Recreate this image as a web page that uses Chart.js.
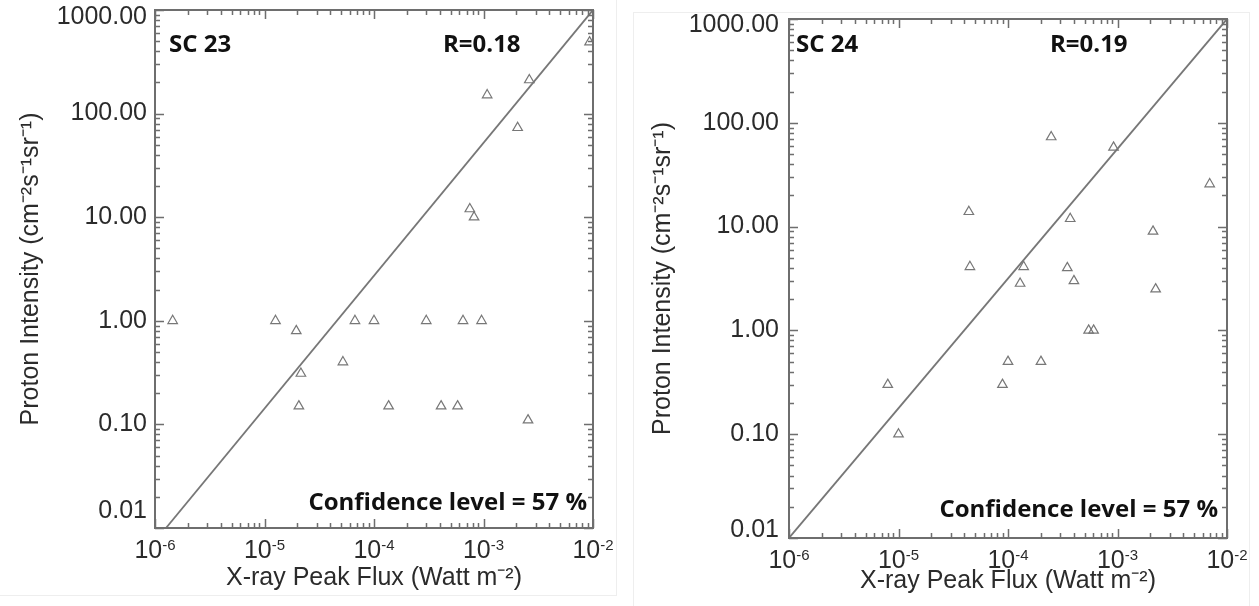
<!DOCTYPE html>
<html>
<head>
<meta charset="utf-8">
<script src="https://cdn.jsdelivr.net/npm/chart.js@4.4.1/dist/chart.umd.min.js"></script>
<style>
  body { margin: 0; background: #fff; width: 1259px; height: 606px; overflow: hidden; position: relative; }
  .panel { position: absolute; top: 0; }
  .frame { position: absolute; pointer-events: none; }
</style>
</head>
<body>
<div class="panel" style="left:0px"><canvas id="sc23" width="620" height="606"></canvas></div>
<div class="panel" style="left:630px"><canvas id="sc24" width="629" height="606"></canvas></div>
<div class="frame" style="left:0; top:0; width:616px; height:595px; border-right:1px solid #eee; border-bottom:1px solid #eee"></div>
<div class="frame" style="left:633px; top:12px; width:615px; height:600px; border-left:1px solid #eee; border-top:1px solid #eee; border-right:1px solid #eee"></div>
<script>
// Solar cycle 23: X-ray peak flux vs proton intensity
const sc23Flux = [1.45e-6, 1.26e-5, 1.95e-5, 2.15e-5, 2.06e-5, 5.2e-5, 6.7e-5, 1.0e-4, 1.36e-4, 3.0e-4, 4.1e-4,
  5.8e-4, 6.5e-4, 7.5e-4, 8.2e-4, 9.6e-4, 1.08e-3, 2.05e-3, 2.55e-3, 2.62e-3, 9.3e-3]
const sc23Proton = [1.0, 1.0, 0.8, 0.31, 0.15, 0.40, 1.0, 1.0, 0.15, 1.0, 0.15,
  0.15, 1.0, 12, 10, 1.0, 151, 73, 0.11, 211, 490]
const sc23FitX = [1.26e-6, 1e-2]
const sc23FitY = [0.01, 1000]

// Solar cycle 24
const sc24Flux = [7.98e-6, 1.0e-5, 4.39e-5, 4.49e-5, 8.9e-5, 1.0e-4, 1.29e-4, 1.39e-4, 2.0e-4, 2.48e-4,
  3.48e-4, 3.70e-4, 4.0e-4, 5.45e-4, 6.05e-4, 9.2e-4, 2.11e-3, 2.23e-3, 6.95e-3]
const sc24Proton = [0.30, 0.10, 13.9, 4.1, 0.30, 0.50, 2.83, 4.1, 0.50, 73,
  4.0, 11.9, 3.0, 1.0, 1.0, 58, 9.0, 2.5, 25.7]
const sc24FitX = [1e-6, 1e-2]
const sc24FitY = [0.01, 1000]

const xTickExps = ['-6', '-5', '-4', '-3', '-2'] // labels 10^-6 .. 10^-2
const yTickLabels = ['0.01', '0.10', '1.00', '10.00', '100.00', '1000.00'] // 1e-2 .. 1e3

const axisFont = '"Liberation Sans", Arial, sans-serif'
const noteFont = '"Open Sans", Lato, sans-serif'
const ink = '#2b2b2b'
const grey = '#6e6e6e'

function logTicks(minExp, maxExp) {
  const out = []
  for (let e = minExp; e < maxExp; e++) {
    for (let m = 1; m <= 9; m++) out.push(m * Math.pow(10, e))
  }
  out.push(Math.pow(10, maxExp))
  return out
}

function decade(v) {
  const e = Math.log10(v)
  const r = Math.round(e)
  return Math.abs(e - r) < 1e-6 ? r : null
}

function toPoints(xs, ys) {
  return xs.map(function(x, i) { return { x: x, y: ys[i] } })
}

// frame with inward ticks on all four sides, like the original IDL plot
const boxPlugin = {
  id: 'box',
  afterDatasetsDraw(chart, args, opts) {
    const ctx = chart.ctx
    const a = chart.chartArea
    const xs = chart.scales.x
    const ys = chart.scales.y
    ctx.save()
    ctx.strokeStyle = grey
    ctx.lineWidth = 1.5
    xs.ticks.forEach(function(t) {
      const px = Math.round(xs.getPixelForValue(t.value)) + 0.5
      const len = decade(t.value) !== null ? 9 : 5
      ctx.beginPath()
      ctx.moveTo(px, a.bottom); ctx.lineTo(px, a.bottom - len)
      ctx.moveTo(px, a.top); ctx.lineTo(px, a.top + len)
      ctx.stroke()
    })
    ys.ticks.forEach(function(t) {
      const py = Math.round(ys.getPixelForValue(t.value)) + 0.5
      const len = decade(t.value) !== null ? 9 : 5
      ctx.beginPath()
      ctx.moveTo(a.left, py); ctx.lineTo(a.left + len, py)
      ctx.moveTo(a.right, py); ctx.lineTo(a.right - len, py)
      ctx.stroke()
    })
    ctx.lineWidth = 2
    ctx.strokeRect(a.left, a.top, a.right - a.left, a.bottom - a.top)

    ctx.fillStyle = ink
    // x tick labels as 10 with a raised exponent
    ctx.textBaseline = 'alphabetic'
    ctx.textAlign = 'left'
    xs.ticks.forEach(function(t) {
      const d = decade(t.value)
      if (d === null) return
      const px = xs.getPixelForValue(t.value)
      const exp = xTickExps[d + 6]
      ctx.font = '25px ' + axisFont
      const wb = ctx.measureText('10').width
      ctx.font = '15px ' + axisFont
      const we = ctx.measureText(exp).width
      const x0 = px - (wb + we) / 2
      ctx.font = '25px ' + axisFont
      ctx.fillText('10', x0, a.bottom + opts.xBase)
      ctx.font = '15px ' + axisFont
      ctx.fillText(exp, x0 + wb, a.bottom + opts.xBase - 8)
    })
    // y tick labels; the end labels sit inside the axis span as in the original
    ctx.textAlign = 'right'
    ctx.textBaseline = 'middle'
    ctx.font = '25px ' + axisFont
    ys.ticks.forEach(function(t) {
      const d = decade(t.value)
      if (d === null) return
      let py = ys.getPixelForValue(t.value)
      if (d === 3) py += opts.topShift
      if (d === -2) py -= opts.bottomShift
      ctx.fillText(yTickLabels[d + 2], a.left - opts.yPad, py)
    })
    ctx.restore()
  }
}

const notesPlugin = {
  id: 'notes',
  afterDraw(chart, args, opts) {
    const ctx = chart.ctx
    const a = chart.chartArea
    ctx.save()
    ctx.fillStyle = '#111'
    ctx.font = 'bold 24px ' + noteFont
    ctx.textBaseline = 'alphabetic'
    ctx.textAlign = 'left'
    ctx.fillText(opts.cycle, a.left + opts.cycleDx, a.top + opts.topDy)
    ctx.fillText(opts.r, a.left + opts.rDx, a.top + opts.topDy)
    ctx.textAlign = 'right'
    ctx.fillText(opts.conf, a.right - opts.confDx, a.bottom - opts.confDy)
    ctx.restore()
  }
}

function noPad(scale) {
  scale.paddingTop = 0
  scale.paddingBottom = 0
  scale.paddingLeft = 0
  scale.paddingRight = 0
}

function makeChart(id, flux, proton, fitX, fitY, pad, labels, notes) {
  const xVals = logTicks(-6, -2)
  const yVals = logTicks(-2, 3)
  return new Chart(document.getElementById(id), {
    type: 'scatter',
    data: {
      datasets: [{
        data: toPoints(flux, proton),
        pointStyle: 'triangle',
        pointRadius: 5.5,
        borderColor: '#777',
        backgroundColor: 'rgba(0,0,0,0)',
        borderWidth: 1.2
      }, {
        data: toPoints(fitX, fitY),
        showLine: true,
        pointRadius: 0,
        borderColor: '#777',
        borderWidth: 1.8
      }]
    },
    options: {
      responsive: false,
      animation: false,
      devicePixelRatio: 1,
      layout: { padding: { top: pad.top, right: pad.right, left: 0, bottom: 0 } },
      plugins: {
        legend: { display: false },
        tooltip: { enabled: false },
        box: labels,
        notes: notes
      },
      scales: {
        x: {
          type: 'logarithmic',
          min: 1e-6,
          max: 1e-2,
          afterBuildTicks: function(scale) { scale.ticks = xVals.map(function(v) { return { value: v } }) },
          afterFit: function(scale) { scale.height = pad.xHeight; noPad(scale) },
          grid: { display: false, drawTicks: false },
          border: { display: false },
          ticks: { display: false },
          title: {
            display: true, text: 'X-ray Peak Flux (Watt m\u207B\u00B2)', color: ink,
            font: { family: axisFont, size: 25 }, padding: { top: 0, bottom: pad.xTitle }
          }
        },
        y: {
          type: 'logarithmic',
          min: 0.01,
          max: 1000,
          afterBuildTicks: function(scale) { scale.ticks = yVals.map(function(v) { return { value: v } }) },
          afterFit: function(scale) { scale.width = pad.yWidth; noPad(scale) },
          grid: { display: false, drawTicks: false },
          border: { display: false },
          ticks: { display: false },
          title: {
            display: true, text: 'Proton Intensity (cm\u207B\u00B2s\u207B\u00B9sr\u207B\u00B9)', color: ink,
            font: { family: axisFont, size: 25 }, padding: { top: pad.yTitle, bottom: 0 }
          }
        }
      }
    },
    plugins: [boxPlugin, notesPlugin]
  })
}

makeChart('sc23', sc23Flux, sc23Proton, sc23FitX, sc23FitY,
  { top: 10, right: 27, yWidth: 155, xHeight: 78, xTitle: 13, yTitle: 16 },
  { xBase: 30, yPad: 8, topShift: 7, bottomShift: 17 },
  { cycle: 'SC 23', r: 'R=0.18', conf: 'Confidence level = 57 %', cycleDx: 14, rDx: 288, topDy: 42, confDx: 6, confDy: 18 })

makeChart('sc24', sc24Flux, sc24Proton, sc24FitX, sc24FitY,
  { top: 19, right: 32, yWidth: 159, xHeight: 68, xTitle: 10, yTitle: 18 },
  { xBase: 30, yPad: 10, topShift: 6, bottomShift: 8 },
  { cycle: 'SC 24', r: 'R=0.19', conf: 'Confidence level = 57 %', cycleDx: 7, rDx: 261, topDy: 33, confDx: 9, confDy: 21 })
</script>
</body>
</html>
